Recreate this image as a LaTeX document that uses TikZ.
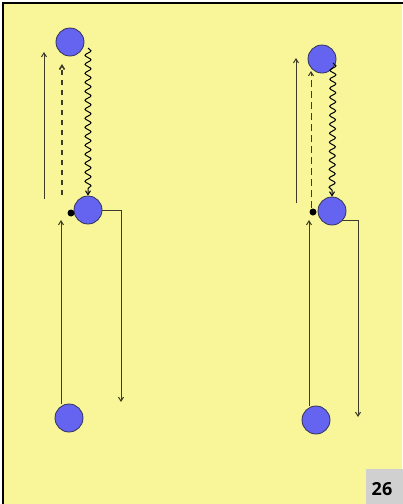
\documentclass[tikz,border=0pt]{standalone}
\usepackage{fontspec}
\setsansfont{Open Sans}
\usetikzlibrary{arrows.meta,decorations.pathmorphing}
\definecolor{paper}{RGB}{248,246,152}
\definecolor{ballblue}{RGB}{100,100,240}
\definecolor{ballrim}{RGB}{50,50,90}
\definecolor{tabgray}{RGB}{208,208,208}
\definecolor{ink}{RGB}{60,60,40}

\begin{document}
\begin{tikzpicture}[x=1pt,y=-1pt, >={Straight Barb[length=4pt,width=5pt]},
  ball/.style={circle,fill=ballblue,draw=ballrim,line width=0.8pt,minimum size=28pt,inner sep=0pt},
  dot/.style={circle,fill=black,inner sep=0pt,minimum size=7pt},
  arr/.style={->,draw=ink,line width=1pt},
  wave/.style={decorate,decoration={snake,amplitude=3pt,segment length=9pt,post length=5pt}}]
  \useasboundingbox (0,0) rectangle (403,504);
  \fill[paper] (3,3) rectangle (402,504);
  \draw[line width=1.6pt,black] (3,504) -- (3,3) -- (403,3);
  \fill[tabgray] (366,469) rectangle (403,504);
  \node[font=\sffamily\bfseries\fontsize{18}{18}\selectfont] (P) at (382,489) {26};

  % left system
  \node[ball] (LA) at (70,42) {};
  \node[ball] (LB) at (88,210) {};
  \node[ball] (LC) at (69,418) {};
  \node[dot] (LD) at (71,213) {};
  \coordinate (L1) at (44,199);
  \coordinate (L2) at (44,52);
  \coordinate (L3) at (62,195);
  \coordinate (L4) at (62,64);
  \coordinate (L5) at (88,48);
  \coordinate (L6) at (121,402);
  \coordinate (L7) at (61,220);
  \draw[arr] (L1) -- (L2);
  \draw[arr,line width=1.6pt,dash pattern=on 5pt off 5pt] (L3) -- (L4);
  \draw[arr,wave,draw=black] (L5) -- (LB.north);
  \draw[arr] (LB.east) -| (L6);
  \draw[arr] (LC.north -| L7) -- (L7);

  % right system
  \node[ball] (RA) at (322,59) {};
  \node[ball] (RB) at (332,211) {};
  \node[ball] (RC) at (316,420) {};
  \node[dot] (RD) at (313,212) {};
  \coordinate (R1) at (296,203);
  \coordinate (R2) at (296,58);
  \coordinate (R4) at (311,71);
  \coordinate (R5) at (333,63);
  \coordinate (R6) at (358,417);
  \coordinate (R7) at (309,220);
  \draw[arr] (R1) -- (R2);
  \draw[arr,dash pattern=on 7pt off 4pt] (RD.north -| R4) -- (R4);
  \draw[arr,wave,draw=black] (R5) -- (RB.north);
  \draw[arr] (RB.south east) ++(0,-1) coordinate (R8) -- (R8 -| R6) -- (R6);
  \draw[arr] (RC.north -| R7) -- (R7);
\end{tikzpicture}
\end{document}
